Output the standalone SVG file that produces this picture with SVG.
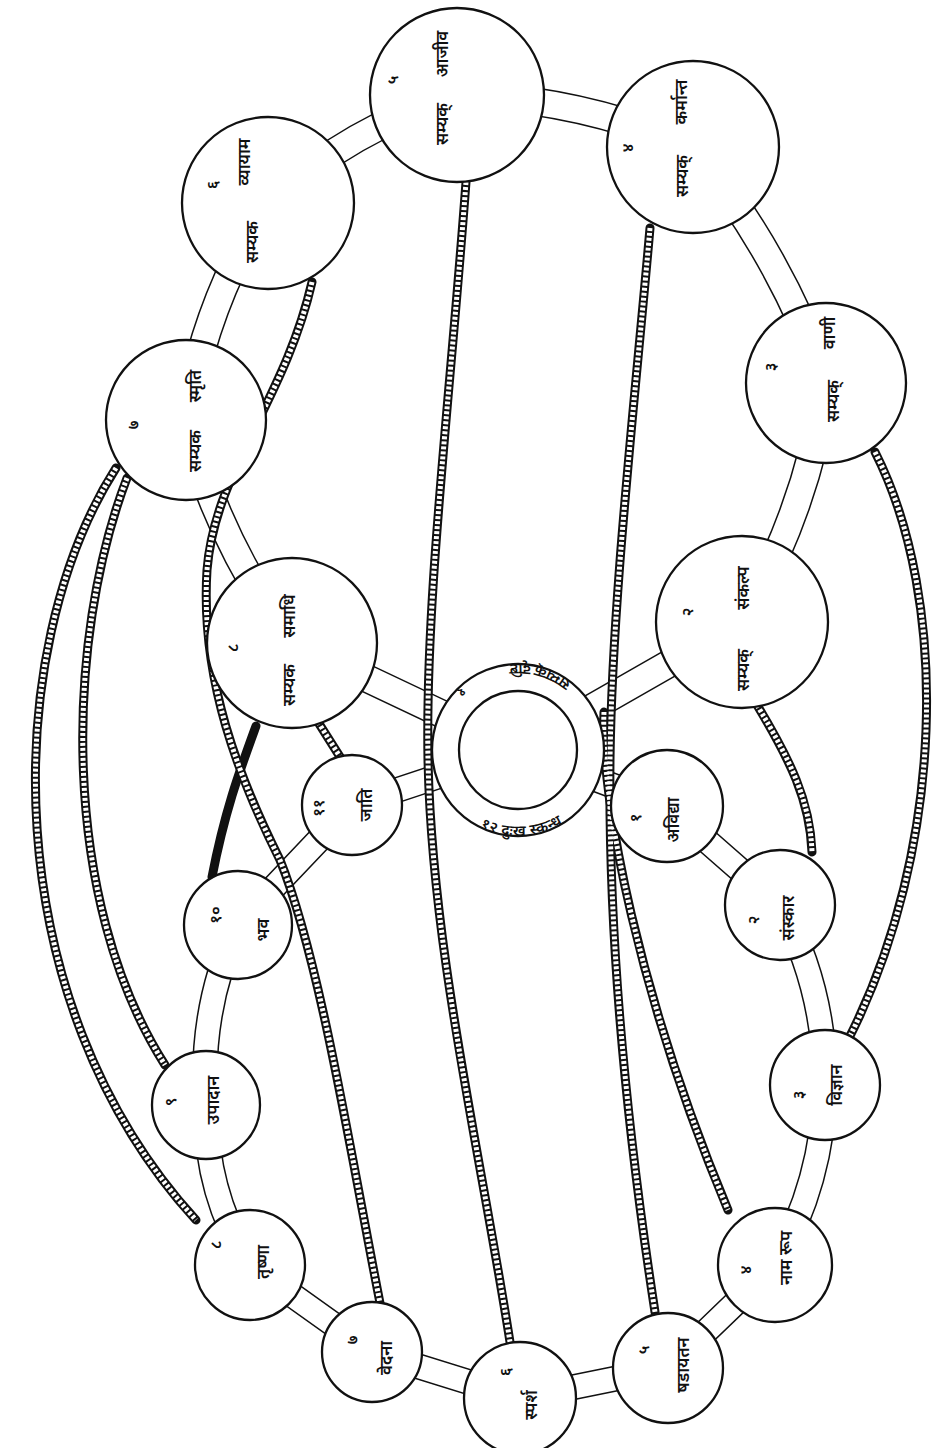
<svg xmlns="http://www.w3.org/2000/svg" width="936" height="1448" viewBox="0 0 936 1448">
<style>
.ropeB{fill:none;stroke:#111;stroke-width:9;stroke-linecap:round}
.ropeW{fill:none;stroke:#fff;stroke-width:5;stroke-dasharray:3 2}
.node{fill:#fff;stroke:#111;stroke-width:2.3}
.t{font-family:"Noto Sans",sans-serif;font-size:17px;font-weight:600;fill:#111;text-anchor:middle;dominant-baseline:central}
.n{font-family:"Noto Sans",sans-serif;font-size:16px;font-weight:600;fill:#111;text-anchor:middle;dominant-baseline:central}
</style>
<rect width="936" height="1448" fill="#fff"/>
<defs>
<path id="ringPath" d="M598,750 A80,80 0 1 0 438,750 A80,80 0 1 0 598,750"/>
<path id="topRing" d="M518,750 L742,622 Q808,508 826,383 Q780,253 693,147 Q580,98 457,95 Q351,128 268,203 Q205,302 186,420 Q217,540 292,643 L518,750"/>
<path id="lowRing" d="M518,750 L667,806 L780,905 Q825,988 825,1085 Q823,1182 775,1265 L668,1368 L520,1398 L372,1352 L250,1265 Q205,1193 206,1105 Q199,1009 238,925 L352,805 L518,750"/>
<path id="r1" d="M466,182 C450,400 425,600 428,760 C432,950 480,1150 510,1342"/>
<path id="r2" d="M650,228 C635,400 612,600 610,760 C608,950 630,1150 655,1312"/>
<path id="r3" d="M604,712 C600,800 640,1000 728,1210"/>
<path id="r4" d="M875,452 C950,600 945,850 848,1040"/>
<path id="r5" d="M757,705 C790,760 810,800 812,852"/>
<path id="r6" d="M116,468 C0,650 -5,1000 196,1220"/>
<path id="r7" d="M127,478 C65,640 60,900 165,1065"/>
<path id="r8" d="M312,282 C285,400 215,470 207,570 C200,680 240,780 280,860 C320,960 350,1150 380,1303"/>
<path id="r9" d="M256,726 C240,770 225,810 212,877"/>
<path id="r10" d="M318,722 L342,760"/>
</defs>
<g id="bands">
<use href="#topRing" style="fill:none;stroke:#111;stroke-width:29;stroke-linejoin:round"/>
<use href="#topRing" style="fill:none;stroke:#fff;stroke-width:26;stroke-linejoin:round"/>
<use href="#lowRing" style="fill:none;stroke:#111;stroke-width:26;stroke-linejoin:round"/>
<use href="#lowRing" style="fill:none;stroke:#fff;stroke-width:23;stroke-linejoin:round"/>
</g>
<g id="connectors">
<use href="#r1" class="ropeB"/><use href="#r2" class="ropeB"/><use href="#r3" class="ropeB"/><use href="#r4" class="ropeB"/><use href="#r5" class="ropeB"/>
<use href="#r6" class="ropeB"/><use href="#r7" class="ropeB"/><use href="#r8" class="ropeB"/><use href="#r9" class="ropeB"/><use href="#r10" class="ropeB"/>
<use href="#r1" class="ropeW"/><use href="#r2" class="ropeW"/><use href="#r3" class="ropeW"/><use href="#r4" class="ropeW"/><use href="#r5" class="ropeW"/>
<use href="#r6" class="ropeW"/><use href="#r7" class="ropeW"/><use href="#r8" class="ropeW"/><use href="#r10" class="ropeW"/>
</g>
<g id="center">
<circle class="node" cx="518" cy="750" r="86"/>
<circle class="node" cx="518" cy="750" r="59"/>
<text class="n" style="font-size:15px"><textPath href="#ringPath" startOffset="103" text-anchor="middle">सम्यक् दृष्टि</textPath></text>
<text class="n" style="font-size:14px"><textPath href="#ringPath" startOffset="187" text-anchor="middle">१</textPath></text>
<text class="n" style="font-size:15px"><textPath href="#ringPath" startOffset="380" text-anchor="middle">१२ दुःख स्कन्ध</textPath></text>
</g>
<g id="n2"><circle class="node" cx="742" cy="622" r="86"/><text class="n" transform="translate(687,612) rotate(-90)">२</text><text class="t" transform="translate(742,588) rotate(-90)">संकल्प</text><text class="t" transform="translate(742,670) rotate(-90)">सम्यक्</text></g>
<g id="n3"><circle class="node" cx="826" cy="383" r="80"/><text class="n" transform="translate(770,367) rotate(-90)">३</text><text class="t" transform="translate(828,333) rotate(-90)">वाणी</text><text class="t" transform="translate(832,401) rotate(-90)">सम्यक्</text></g>
<g id="n4"><circle class="node" cx="693" cy="147" r="86"/><text class="n" transform="translate(627,148) rotate(-90)">४</text><text class="t" transform="translate(680,102) rotate(-90)">कर्मान्त</text><text class="t" transform="translate(681,176) rotate(-90)">सम्यक्</text></g>
<g id="n5"><circle class="node" cx="457" cy="95" r="87"/><text class="n" transform="translate(392,80) rotate(-90)">५</text><text class="t" transform="translate(441,54) rotate(-90)">आजीव</text><text class="t" transform="translate(441,124) rotate(-90)">सम्यक्</text></g>
<g id="n6"><circle class="node" cx="268" cy="203" r="86"/><text class="n" transform="translate(212,185) rotate(-90)">६</text><text class="t" transform="translate(243,162) rotate(-90)">व्यायाम</text><text class="t" transform="translate(251,242) rotate(-90)">सम्यक</text></g>
<g id="n7"><circle class="node" cx="186" cy="420" r="80"/><text class="n" transform="translate(133,425) rotate(-90)">७</text><text class="t" transform="translate(194,386) rotate(-90)">स्मृति</text><text class="t" transform="translate(194,451) rotate(-90)">सम्यक</text></g>
<g id="n8"><circle class="node" cx="292" cy="643" r="85"/><text class="n" transform="translate(232,648) rotate(-90)">८</text><text class="t" transform="translate(288,616) rotate(-90)">समाधि</text><text class="t" transform="translate(288,685) rotate(-90)">सम्यक</text></g>
<g id="l1"><circle class="node" cx="667" cy="806" r="56"/><text class="n" transform="translate(635,818) rotate(-90)">१</text><text class="t" transform="translate(672,820) rotate(-90)">अविद्या</text></g>
<g id="l2"><circle class="node" cx="780" cy="905" r="55"/><text class="n" transform="translate(753,920) rotate(-90)">२</text><text class="t" transform="translate(787,918) rotate(-90)">संस्कार</text></g>
<g id="l3"><circle class="node" cx="825" cy="1085" r="55"/><text class="n" transform="translate(798,1095) rotate(-90)">३</text><text class="t" transform="translate(835,1085) rotate(-90)">विज्ञान</text></g>
<g id="l4"><circle class="node" cx="775" cy="1265" r="57"/><text class="n" transform="translate(745,1270) rotate(-90)">४</text><text class="t" transform="translate(785,1258) rotate(-90)">नाम रूप</text></g>
<g id="l5"><circle class="node" cx="668" cy="1368" r="55"/><text class="n" transform="translate(643,1350) rotate(-90)">५</text><text class="t" transform="translate(682,1365) rotate(-90)">षडायतन</text></g>
<g id="l6"><circle class="node" cx="520" cy="1398" r="56"/><text class="n" transform="translate(505,1372) rotate(-90)">६</text><text class="t" transform="translate(530,1405) rotate(-90)">स्पर्श</text></g>
<g id="l7"><circle class="node" cx="372" cy="1352" r="50"/><text class="n" transform="translate(352,1340) rotate(-90)">७</text><text class="t" transform="translate(385,1358) rotate(-90)">वेदना</text></g>
<g id="l8"><circle class="node" cx="250" cy="1265" r="55"/><text class="n" transform="translate(215,1245) rotate(-90)">८</text><text class="t" transform="translate(262,1262) rotate(-90)">तृष्णा</text></g>
<g id="l9"><circle class="node" cx="206" cy="1105" r="54"/><text class="n" transform="translate(170,1102) rotate(-90)">९</text><text class="t" transform="translate(212,1100) rotate(-90)">उपादान</text></g>
<g id="l10"><circle class="node" cx="238" cy="925" r="54"/><text class="n" transform="translate(215,915) rotate(-90)">१०</text><text class="t" transform="translate(262,930) rotate(-90)">भव</text></g>
<g id="l11"><circle class="node" cx="352" cy="805" r="50"/><text class="n" transform="translate(318,808) rotate(-90)">११</text><text class="t" transform="translate(365,805) rotate(-90)">जाति</text></g>
</svg>
